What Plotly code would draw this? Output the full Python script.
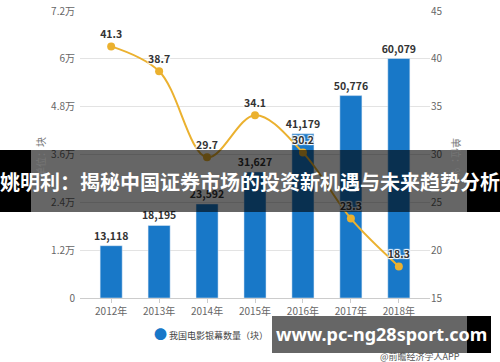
import plotly.graph_objects as go

years = ["2012年", "2013年", "2014年", "2015年", "2016年", "2017年", "2018年"]
screens = [13118, 18195, 23592, 31627, 41179, 50776, 60079]
growth = [41.3, 38.7, 29.7, 34.1, 30.2, 23.3, 18.3]
left_tickvals = [0, 12000, 24000, 36000, 48000, 60000, 72000]
left_ticktext = ["0", "1.2万", "2.4万", "3.6万", "4.8万", "6万", "7.2万"]
right_tickvals = [15, 20, 25, 30, 35, 40, 45]
bar_name = "我国电影银幕数量（块）"
title_text = "姚明利：揭秘中国证券市场的投资新机遇与未来趋势分析"
watermark_text = "www.pc-ng28sport.com"
source_text = "@前瞻经济学人APP"
left_title = "单位：块"
right_title = "单位：%"

W, H = 500, 362
L, R, T, B = 80, 70, 11, 64
PW, PH = W - L - R, H - T - B

def px(x):
    return (x - L) / PW

def py(y):
    return (H - B - y) / PH

FONT = "Noto Sans CJK SC"
BAR_C = "#1878c8"
LINE_C = "#ebb12f"

fig = go.Figure()
fig.add_trace(go.Bar(
    x=years, y=screens, marker_color=BAR_C, width=0.46, name=bar_name,
    texttemplate="%{y:,}", textposition="outside", cliponaxis=False, constraintext="none",
    textfont=dict(family=FONT, size=10.5, color="#333333", weight="bold"),
))
fig.add_trace(go.Scatter(
    x=years, y=growth, yaxis="y2", mode="lines+markers+text",
    line=dict(color=LINE_C, width=2, shape="spline", smoothing=1),
    marker=dict(color=LINE_C, size=8),
    text=[f"{v:.1f}" for v in growth], textposition="top center",
    textfont=dict(family=FONT, size=10.5, color="#333333", weight="bold",
                  shadow="1px 1px 1px #fff, -1px -1px 1px #fff, 1px -1px 1px #fff, -1px 1px 1px #fff"),
    cliponaxis=False,
))

shapes = []
def rect(x0, x1, y0, y1, color):
    shapes.append(dict(type="rect", xref="paper", yref="paper", x0=px(x0), x1=px(x1),
                       y0=py(y1), y1=py(y0), fillcolor=color, line=dict(width=0), layer="above"))

rect(0, 31, 150, 212, "#000000")
rect(31, 467, 150, 212, "rgba(0,0,0,0.6)")
rect(467, 500, 150, 212, "#000000")
rect(272, 467, 316, 353, "rgba(0,0,0,0.6)")
rect(467, 491, 316, 353, "#000000")

def note(text, x, y, font, xanchor="center", angle=0):
    return dict(text=text, x=px(x), y=py(y), xref="paper", yref="paper", showarrow=False,
                xanchor=xanchor, yanchor="middle", textangle=angle, font=font)

annotations = [
    note(left_title, 40, 157, dict(family=FONT, size=10, color="#777777"), angle=-90),
    note(right_title, 457, 157, dict(family=FONT, size=10, color="#777777"), angle=90),
    note(f"<span style='color:{BAR_C};font-size:13px'>●</span> " + bar_name, 152, 333,
         dict(family=FONT, size=9, color="#444444"), xanchor="left"),
    note(source_text, 420, 356, dict(family=FONT, size=9, color="#555555")),
    note("<b>" + title_text + "</b>", 250, 181, dict(family=FONT, size=20, color="#ffffff")),
    note("<b>" + watermark_text + "</b>", 381, 334, dict(family="Noto Sans", size=18, color="#ffffff")),
]

fig.update_layout(
    width=W, height=H, margin=dict(l=L, r=R, t=T, b=B),
    paper_bgcolor="white", plot_bgcolor="white", showlegend=False,
    font=dict(family=FONT, size=10, color="#666666"),
    xaxis=dict(type="category", range=[-0.65, 6.65], showgrid=False, showline=True,
               linecolor="#cccccc", ticks="outside", ticklen=4, tickcolor="#cccccc",
               tickfont=dict(size=10, color="#666666"), automargin=False),
    yaxis=dict(range=[0, 72000], tickvals=left_tickvals, ticktext=left_ticktext,
               showgrid=True, gridcolor="#e3e3e3", zeroline=False, automargin=False,
               tickfont=dict(size=10, color="#666666"), ticklabelstandoff=4),
    yaxis2=dict(range=[15, 45], tickvals=right_tickvals, overlaying="y", side="right",
                showgrid=False, zeroline=False, automargin=False,
                tickfont=dict(size=10, color="#666666")),
    shapes=shapes, annotations=annotations,
)

fig.write_html("out.html")
